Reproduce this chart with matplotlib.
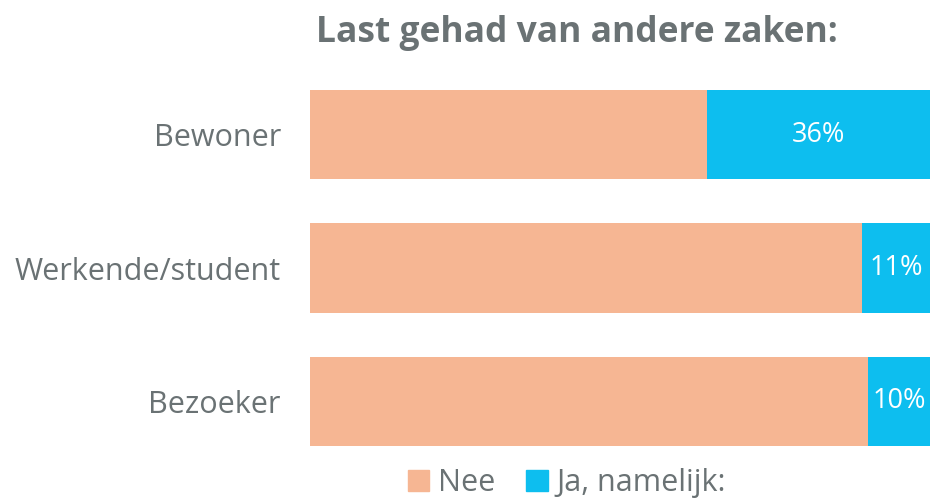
import matplotlib
matplotlib.use("Agg")
import matplotlib.pyplot as plt
from matplotlib.patches import Patch

categories = ["Bewoner", "Werkende/student", "Bezoeker"]
nee = [64, 89, 90]
ja = [36, 11, 10]
series_names = ["Nee", "Ja, namelijk:"]
colors = ["#F6B693", "#0DBEEF"]
gray = "#6A7274"

plt.rcParams['font.family'] = ['Open Sans', 'DejaVu Sans']

fig = plt.figure(figsize=(9.3, 4.98), dpi=100)
ax = fig.add_axes([310/930, 52/498, 620/930, 356/498])

y = list(range(len(categories)))
h = 0.67
ax.barh(y, nee, height=h, color=colors[0], linewidth=0)
ax.barh(y, ja, left=nee, height=h, color=colors[1], linewidth=0)
for yi, n, j in zip(y, nee, ja):
    ax.text(n + j / 2, yi, f"{j}%", ha="center", va="center", color="white", fontsize=19.5)

ax.set_xlim(0, 100)
ax.set_ylim(len(categories) - 1 + h / 2, -h / 2)
ax.set_yticks(y)
ax.set_yticklabels(categories, fontsize=22, color=gray)
ax.tick_params(axis="y", length=0, pad=21)
ax.set_xticks([])
for s in ax.spines.values():
    s.set_visible(False)

fig.text(577/930, 1 - 33/498, "Last gehad van andere zaken:", ha="center", va="center",
         fontsize=25.5, fontweight="bold", color=gray)

handles = [Patch(color=c) for c in colors]
fig.legend(handles, series_names, loc="center", bbox_to_anchor=(567/930, 1 - 483/498),
           ncol=2, frameon=False, fontsize=22, labelcolor=gray,
           handlelength=0.7, handleheight=0.7, handletextpad=0.3, columnspacing=1.0)

fig.savefig("out.png", dpi=100)
